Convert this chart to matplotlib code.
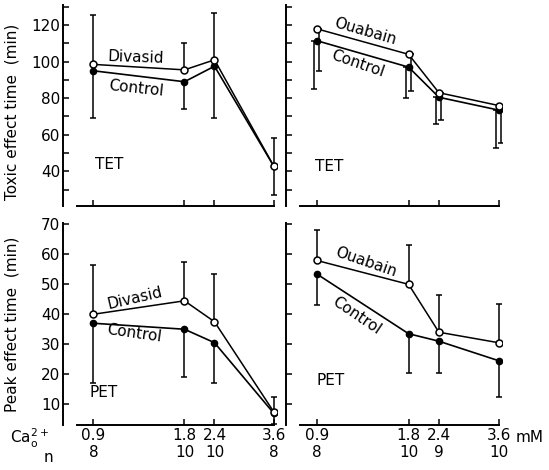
import numpy as np
import matplotlib
matplotlib.use("Agg")
import matplotlib.pyplot as plt
from matplotlib.scale import FuncScale
from matplotlib.transforms import offset_copy
from matplotlib.ticker import MultipleLocator

plt.rcParams.update({
    "font.family": "DejaVu Sans",
    "font.size": 11,
    "axes.linewidth": 1.4,
    "xtick.direction": "in",
    "ytick.direction": "in",
    "xtick.major.size": 4,
    "ytick.major.size": 4,
    "ytick.minor.size": 4,
    "xtick.major.width": 1.1,
    "ytick.major.width": 1.1,
    "ytick.minor.width": 1.1,
})

# --- data ---
conc = [0.9, 1.8, 2.4, 3.6]          # Ca2+ (mM)
n_divasid = [8, 10, 10, 8]
n_ouabain = [8, 10, 9, 10]

# toxic effect time (TET), min
tet_divasid = [98.5, 95.5, 101, 43]
tet_divasid_err = [27, 14.5, 25.5, 15]      # drawn upward
tet_ctrl_div = [95, 89, 97.5, 43]
tet_ctrl_div_err = [26, 15, 28.5, 16]       # drawn downward

tet_ouabain = [118, 104, 83, 76]
tet_ouabain_err = [23, 20, 15, 20.5]        # drawn downward
tet_ctrl_oua = [111.5, 97, 80.5, 73.5]
tet_ctrl_oua_err = [26.5, 17, 14.5, 21]     # drawn downward

# peak effect time (PET), min
pet_divasid = [40, 44.5, 37.5, 7.5]
pet_divasid_err = [16.5, 13, 16, 5]
pet_ctrl_div = [37, 35, 30.5, 7]
pet_ctrl_div_err = [20, 16, 13.5, 3.5]

pet_ouabain = [58, 50, 34, 30.5]
pet_ouabain_err = [10, 13, 12.5, 13]
pet_ctrl_oua = [53.5, 33.5, 31, 24.5]
pet_ctrl_oua_err = [10.5, 13, 10.5, 12]

# the original concentration axis is not drawn to a linear scale
xk = np.array([0.0, 0.9, 1.8, 2.4, 3.6, 6.0])
uk = np.array([-0.91, 0.0, 0.91, 1.21, 1.80, 2.98])


def fwd(x):
    return np.interp(x, xk, uk)


def inv(u):
    return np.interp(u, uk, xk)


W, H = 549, 470
fig = plt.figure(figsize=(W / 100, H / 100), dpi=100)

ax_tl = fig.add_axes([63 / W, 1 - 206 / H, 214 / W, 201 / H])
ax_tr = fig.add_axes([286 / W, 1 - 206 / H, 216 / W, 201 / H])
ax_bl = fig.add_axes([63 / W, 1 - 425 / H, 214 / W, 202 / H])
ax_br = fig.add_axes([286 / W, 1 - 425 / H, 216 / W, 202 / H])

zeros = np.zeros(len(conc))


def draw(ax, y_open, e_open, up_open, y_fill, e_fill, shift=0.0):
    # error bars (open series one way, control the other)
    e_open = np.asarray(e_open)
    e_fill = np.asarray(e_fill)
    yerr_o = [zeros, e_open] if up_open else [e_open, zeros]
    tr_o = offset_copy(ax.transData, fig=fig, x=shift, y=0, units="dots")
    tr_f = offset_copy(ax.transData, fig=fig, x=-shift, y=0, units="dots")
    ax.errorbar(conc, y_open, yerr=yerr_o, fmt="none", ecolor="k",
                elinewidth=1.1, capsize=2.5, capthick=1.1, transform=tr_o,
                zorder=2)
    ax.errorbar(conc, y_fill, yerr=[e_fill, zeros], fmt="none", ecolor="k",
                elinewidth=1.1, capsize=2.5, capthick=1.1, transform=tr_f,
                zorder=2)
    ax.plot(conc, y_fill, "-o", color="k", ms=4.5, lw=1.2, zorder=3)
    ax.plot(conc, y_open, "-o", color="k", mfc="white", mew=1.1, ms=5,
            lw=1.1, zorder=4)


draw(ax_tl, tet_divasid, tet_divasid_err, True, tet_ctrl_div, tet_ctrl_div_err)
draw(ax_tr, tet_ouabain, tet_ouabain_err, False, tet_ctrl_oua, tet_ctrl_oua_err,
     shift=2.5)
draw(ax_bl, pet_divasid, pet_divasid_err, True, pet_ctrl_div, pet_ctrl_div_err)
draw(ax_br, pet_ouabain, pet_ouabain_err, True, pet_ctrl_oua, pet_ctrl_oua_err)

for ax in (ax_tl, ax_tr, ax_bl, ax_br):
    ax.set_xscale(FuncScale(ax, (fwd, inv)))
    ax.set_xlim(0.6, 3.67)
    ax.set_xticks(conc)
    ax.spines["top"].set_visible(False)
    ax.spines["right"].set_visible(False)
    ax.spines["bottom"].set_bounds(0.74, 3.6)
    ax.tick_params(axis="x", pad=2)
    ax.tick_params(axis="y", pad=2)

for ax in (ax_tl, ax_tr):
    ax.set_ylim(21, 131)
    ax.yaxis.set_minor_locator(MultipleLocator(10))
    ax.set_xticklabels([])
ax_tl.set_yticks([40, 60, 80, 100, 120])
ax_tr.set_yticks([40, 60, 80, 100, 120])
ax_tr.set_yticklabels([])

for ax in (ax_bl, ax_br):
    ax.set_ylim(3, 70.5)
    ax.set_yticks([10, 20, 30, 40, 50, 60, 70])
ax_br.set_yticklabels([])

ax_bl.set_xticklabels([f"{c}\n{n}" for c, n in zip(conc, n_divasid)],
                      linespacing=1.15)
ax_br.set_xticklabels([f"{c}\n{n}" for c, n in zip(conc, n_ouabain)],
                      linespacing=1.15)

ax_tl.set_ylabel("Toxic effect time  (min)")
ax_bl.set_ylabel("Peak effect time  (min)")
ax_tl.yaxis.set_label_coords(-0.205, 0.47)
ax_bl.yaxis.set_label_coords(-0.205, 0.5)

# curve labels
ax_tl.text(1.32, 102.5, "Divasid", rotation=-2, ha="center", va="center")
ax_tl.text(1.32, 85.5, "Control", rotation=-6, ha="center", va="center")
ax_tl.text(1.06, 43.5, "TET", ha="center", va="center")

ax_tr.text(1.37, 116.5, "Ouabain", rotation=-16, ha="center", va="center")
ax_tr.text(1.30, 99, "Control", rotation=-19, ha="center", va="center")
ax_tr.text(1.02, 42.5, "TET", ha="center", va="center")

ax_bl.text(1.31, 45.5, "Divasid", rotation=13, ha="center", va="center")
ax_bl.text(1.30, 33.5, "Control", rotation=-8, ha="center", va="center")
ax_bl.text(1.00, 14, "PET", ha="center", va="center")

ax_br.text(1.38, 57.5, "Ouabain", rotation=-19, ha="center", va="center")
ax_br.text(1.29, 39.5, "Control", rotation=-34, ha="center", va="center")
ax_br.text(1.04, 18, "PET", ha="center", va="center")

fig.text(10 / W, 1 - 438 / H, r"Ca$_\mathrm{o}^{2+}$", ha="left", va="center")
fig.text(44 / W, 1 - 457 / H, "n", ha="left", va="center")
fig.text(516 / W, 1 - 438 / H, "mM", ha="left", va="center")

fig.savefig("out.png", dpi=100)
